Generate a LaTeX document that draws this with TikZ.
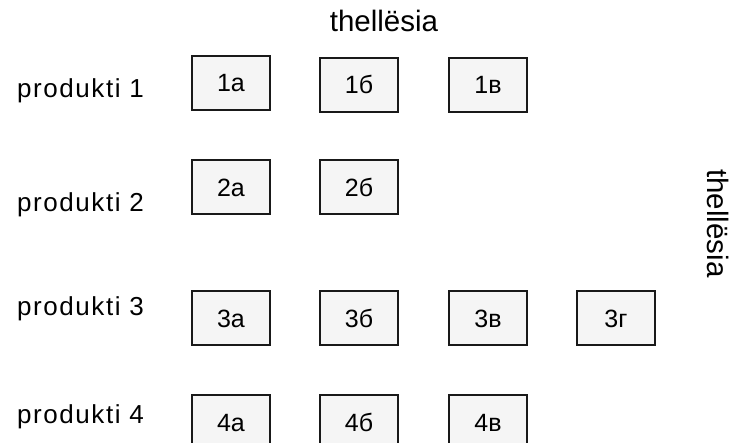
\documentclass[tikz,border=0pt]{standalone}
\usepackage{fontspec}
\setmainfont{Liberation Sans}
\begin{document}
\begin{tikzpicture}[x=1pt,y=-1pt,
  cell/.style={draw=black!90,line width=2pt,fill=black!4,minimum width=78pt,minimum height=54pt,inner sep=0pt,text height=18pt,text depth=0pt,font=\fontsize{25}{30}\selectfont},
  rowlabel/.style={anchor=base west,inner sep=0pt,font=\fontsize{26}{30}\selectfont\addfontfeature{LetterSpace=6}},
  axislabel/.style={anchor=base,inner sep=0pt,font=\fontsize{29.5}{34}\selectfont}]
\clip (0,0) rectangle (730,443);
\fill[white] (0,0) rectangle (730,443);
\node[axislabel] (top) at (384,32) {thellësia};
\node[axislabel,rotate=-90] (side) at (707,223.5) {thellësia};
\node[rowlabel] (p1) at (17,98) {produkti 1};
\node[rowlabel] (p2) at (17,212) {produkti 2};
\node[rowlabel] (p3) at (17,315) {produkti 3};
\node[rowlabel] (p4) at (17,423) {produkti 4};
\node[cell] (c1a) at (231,83) {1а};
\node[cell] (c1b) at (359,85) {1б};
\node[cell] (c1c) at (488,85) {1в};
\node[cell] (c2a) at (231,187.5) {2а};
\node[cell] (c2b) at (359,187.5) {2б};
\node[cell] (c3a) at (231,318) {3а};
\node[cell] (c3b) at (359,318) {3б};
\node[cell] (c3c) at (488,318) {3в};
\node[cell] (c3d) at (616,318) {3г};
\node[cell] (c4a) at (231,422) {4а};
\node[cell] (c4b) at (359,422) {4б};
\node[cell] (c4c) at (488,422) {4в};
\end{tikzpicture}
\end{document}
